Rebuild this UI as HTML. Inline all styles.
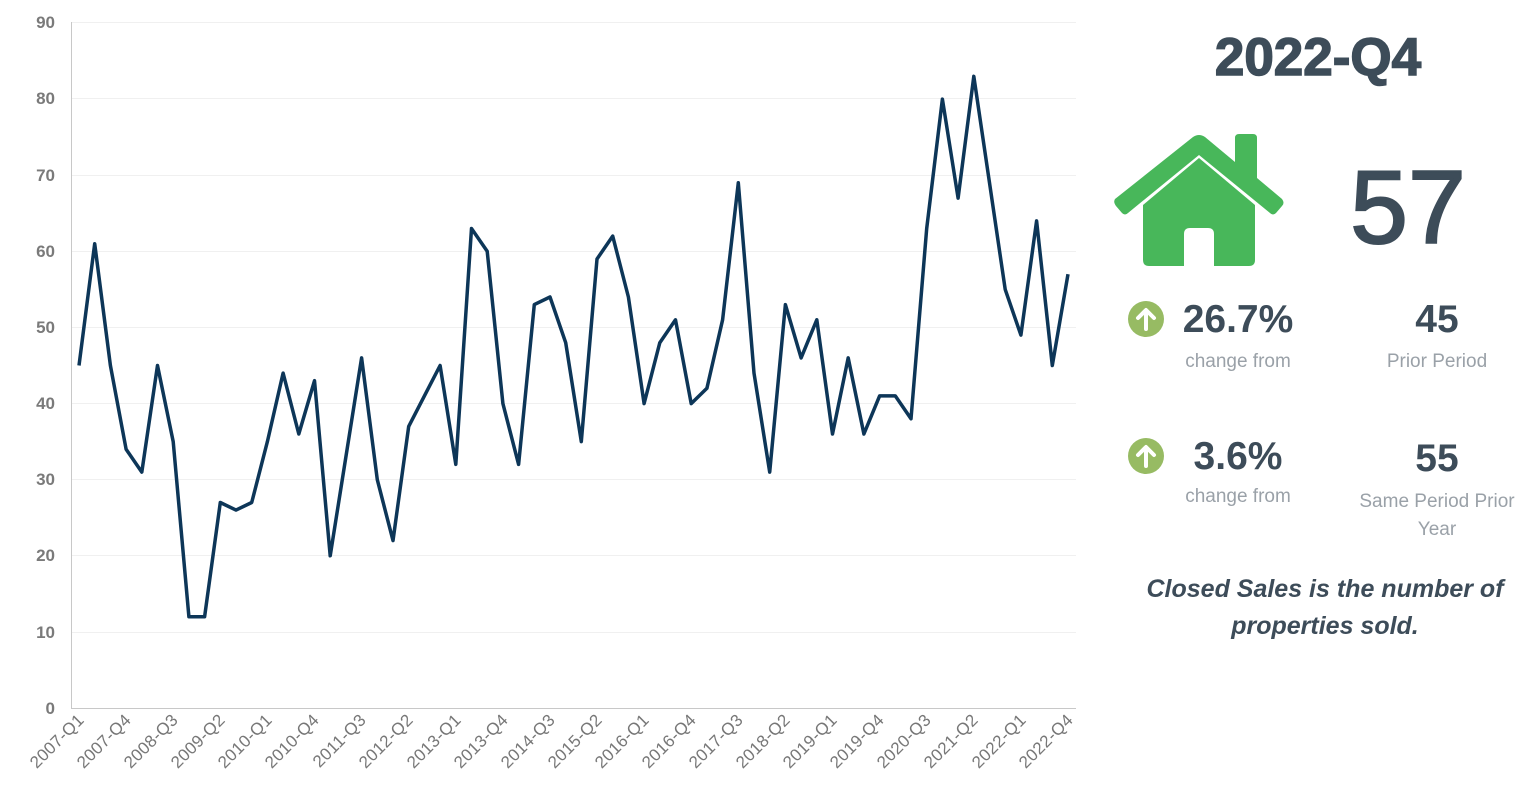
<!DOCTYPE html>
<html><head><meta charset="utf-8"><style>
body{margin:0;width:1536px;height:802px;background:#fff;overflow:hidden;font-family:"Liberation Sans",sans-serif}
svg{position:absolute;left:0;top:0}
</style></head><body>
<svg width="1536" height="802" viewBox="0 0 1536 802">
<g stroke="#f0f0f0" stroke-width="1">
<line x1="71" x2="1076" y1="22.5" y2="22.5"/><line x1="71" x2="1076" y1="98.5" y2="98.5"/>
<line x1="71" x2="1076" y1="175.5" y2="175.5"/><line x1="71" x2="1076" y1="251.5" y2="251.5"/>
<line x1="71" x2="1076" y1="327.5" y2="327.5"/><line x1="71" x2="1076" y1="403.5" y2="403.5"/>
<line x1="71" x2="1076" y1="479.5" y2="479.5"/><line x1="71" x2="1076" y1="555.5" y2="555.5"/>
<line x1="71" x2="1076" y1="632.5" y2="632.5"/>
</g>
<path d="M71.5 22V708.5H1076" fill="none" stroke="#c8c8c8" stroke-width="1"/>
<g font-size="17" font-weight="bold" fill="#7a7a7a" text-anchor="end">
<text x="55" y="28">90</text><text x="55" y="104">80</text><text x="55" y="181">70</text>
<text x="55" y="257">60</text><text x="55" y="333">50</text><text x="55" y="409">40</text>
<text x="55" y="485">30</text><text x="55" y="561">20</text><text x="55" y="638">10</text>
<text x="55" y="714">0</text>
</g>
<path id="ln" fill="none" stroke="#0d3658" stroke-width="3.5" stroke-linejoin="round"/>
<g font-size="17" fill="#777" text-anchor="end" letter-spacing="0.3">
<text transform="translate(85,721) rotate(-45)">2007-Q1</text>
<text transform="translate(132,721) rotate(-45)">2007-Q4</text>
<text transform="translate(179,721) rotate(-45)">2008-Q3</text>
<text transform="translate(226,721) rotate(-45)">2009-Q2</text>
<text transform="translate(273,721) rotate(-45)">2010-Q1</text>
<text transform="translate(320,721) rotate(-45)">2010-Q4</text>
<text transform="translate(367,721) rotate(-45)">2011-Q3</text>
<text transform="translate(414,721) rotate(-45)">2012-Q2</text>
<text transform="translate(462,721) rotate(-45)">2013-Q1</text>
<text transform="translate(509,721) rotate(-45)">2013-Q4</text>
<text transform="translate(556,721) rotate(-45)">2014-Q3</text>
<text transform="translate(603,721) rotate(-45)">2015-Q2</text>
<text transform="translate(650,721) rotate(-45)">2016-Q1</text>
<text transform="translate(697,721) rotate(-45)">2016-Q4</text>
<text transform="translate(744,721) rotate(-45)">2017-Q3</text>
<text transform="translate(791,721) rotate(-45)">2018-Q2</text>
<text transform="translate(838,721) rotate(-45)">2019-Q1</text>
<text transform="translate(885,721) rotate(-45)">2019-Q4</text>
<text transform="translate(932,721) rotate(-45)">2020-Q3</text>
<text transform="translate(979,721) rotate(-45)">2021-Q2</text>
<text transform="translate(1027,721) rotate(-45)">2022-Q1</text>
<text transform="translate(1074,721) rotate(-45)">2022-Q4</text>
</g>
<text x="1318" y="75" font-size="53" font-weight="bold" fill="#3d4c59" text-anchor="middle" stroke="#3d4c59" stroke-width="1.5">2022-Q4</text>
<g fill="#48b75a">
<path d="M1143 205 L1199 158 L1255 205 V260 Q1255 266 1249 266 H1214 V234 Q1214 228 1208 228 H1190 Q1184 228 1184 234 V266 H1149 Q1143 266 1143 260Z"/>
<path d="M1115 199 L1193 137 Q1199 133 1205 137 L1235 162 V138 Q1235 134 1239 134 H1253 Q1257 134 1257 138 V178 L1282 199 Q1285 203 1282 206 L1276 213 Q1273 216 1270 213 L1199 155 L1128 213 Q1125 216 1122 213 L1116 206 Q1113 202 1115 199Z"/>
</g>
<text x="1408" y="243" font-size="104" fill="#3d4c59" text-anchor="middle" stroke="#3d4c59" stroke-width="2">57</text>
<circle cx="1146" cy="319" r="18" fill="#97bb63"/>
<circle cx="1146" cy="456" r="18" fill="#97bb63"/>
<g stroke="#fff" stroke-width="4" fill="none" stroke-linecap="round" stroke-linejoin="round">
<path d="M1146 329V311M1138 318L1146 310L1154 318"/>
<path d="M1146 466V448M1138 455L1146 447L1154 455"/>
</g>
<g fill="#3d4c59" font-weight="bold" text-anchor="middle">
<text x="1238" y="332" font-size="39">26.7%</text>
<text x="1437" y="332" font-size="39">45</text>
<text x="1238" y="469" font-size="39">3.6%</text>
<text x="1437" y="471" font-size="39">55</text>
</g>
<g fill="#9aa1a8" font-size="19" text-anchor="middle">
<text x="1238" y="367">change from</text>
<text x="1437" y="367">Prior Period</text>
<text x="1238" y="502">change from</text>
<text x="1437" y="507">Same Period Prior</text>
<text x="1437" y="535">Year</text>
</g>
<g fill="#3d4c59" font-size="25" font-weight="bold" font-style="italic" text-anchor="middle">
<text x="1325" y="597">Closed Sales is the number of</text>
<text x="1325" y="634">properties sold.</text>
</g>
</svg>
<script>
var d=[45,61,45,34,31,45,35,12,12,27,26,27,35,44,36,43,20,33,46,30,22,37,41,45,32,63,60,40,32,53,54,48,35,59,62,54,40,48,51,40,42,51,69,44,31,53,46,51,36,46,36,41,41,38,63,80,67,83,69,55,49,64,45,57];
var s="";for(var i=0;i<d.length;i++){s+=(i?"L":"M")+(79+i*989/63).toFixed(1)+" "+(708-d[i]*7.611).toFixed(1);}
document.getElementById("ln").setAttribute("d",s);
</script>
</body></html>
